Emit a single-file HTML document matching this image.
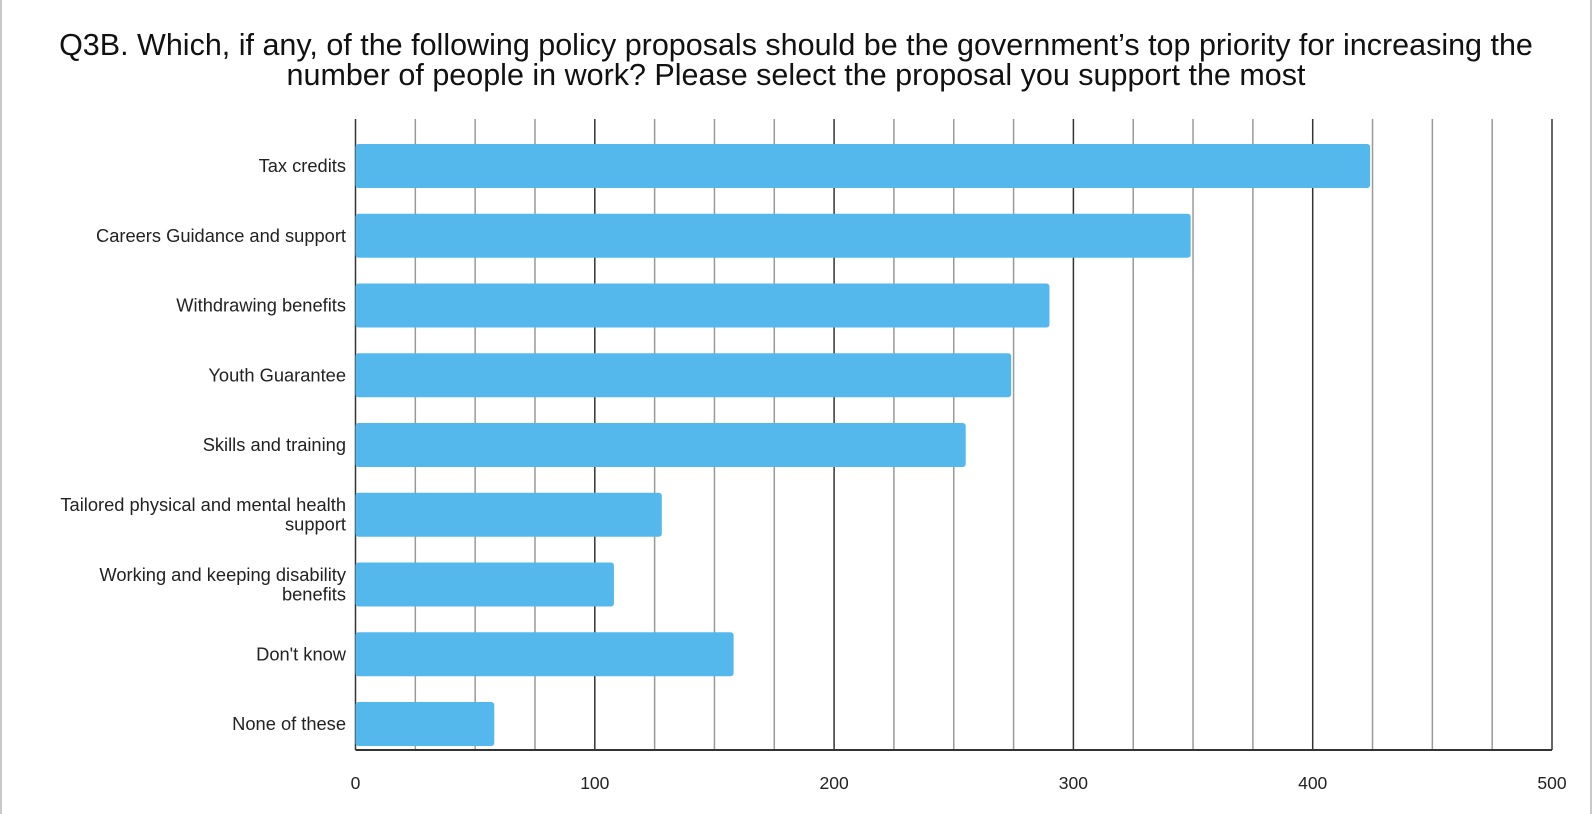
<!DOCTYPE html>
<html><head><meta charset="utf-8"><style>
body{margin:0;background:#fff;}
#wrap{position:relative;width:1592px;height:814px;overflow:hidden;background:#fff;font-family:"Liberation Sans",Arial,sans-serif;}
#bl{position:absolute;left:0;top:0;width:2px;height:814px;background:#c8c8c8;}
#br{position:absolute;right:0;top:0;width:2px;height:814px;background:#c8c8c8;}
#title{position:absolute;left:0;top:31px;width:1592px;text-align:center;font-size:30.5px;line-height:29.5px;color:#111;}
</style></head><body>
<div id="wrap">
<div id="bl"></div>
<div id="br"></div>
<div id="title">Q3B. Which, if any, of the following policy proposals should be the government’s top priority for increasing the<br>number of people in work? Please select the proposal you support the most</div>
<svg id="chart" width="1592" height="814" style="position:absolute;left:0;top:0"></svg>
</div>
<script>
const categories=[["Tax credits"],["Careers Guidance and support"],["Withdrawing benefits"],["Youth Guarantee"],["Skills and  training"],["Tailored physical and mental health","support"],["Working and keeping disability","benefits"],["Don't know"],["None of these"]];
const values=[424,349,290,274,255,128,108,158,58];
const tickValues=[0,100,200,300,400,500];
const xMax=500;
const NS="http://www.w3.org/2000/svg";
const svg=document.getElementById('chart');
const x0=355.5,x1=1552,yTop=119,yBot=750,firstC=166,step=69.75,barH=44;
const xs=v=>x0+(x1-x0)*v/xMax;
const yc=i=>firstC+i*step;
function mk(t,a){const e=document.createElementNS(NS,t);for(const k in a)e.setAttribute(k,a[k]);svg.appendChild(e);return e;}
for(let v=0;v<=xMax;v+=25){
  const major=v%100===0;
  const l=mk('line',{x1:xs(v),x2:xs(v),y1:yTop,y2:yBot,stroke:major?'#333':'#999','stroke-width':1.5});
  
  
}
const base=mk('line',{x1:x0,x2:x1,y1:yBot,y2:yBot,stroke:'#333','stroke-width':2});


tickValues.forEach(v=>{
  const t=mk('text',{x:xs(v),y:yBot+39,'text-anchor':'middle','font-size':17.5,fill:'#222'});
  t.textContent=v;
  
  
});
values.forEach((v,i)=>{
  const r=mk('rect',{x:x0,y:yc(i)-barH/2,width:xs(v)-x0,height:barH,rx:3,fill:'#55b8ec'});
  
  
  const lines=categories[i];
  const t=mk('text',{x:346,'text-anchor':'end','font-size':18.3,fill:'#222'});
  
  
  lines.forEach((s,j)=>{
    const ts=document.createElementNS(NS,'tspan');
    ts.setAttribute('x',346);
    ts.setAttribute('y',yc(i)+6+(j-(lines.length-1)/2)*19.5);
    ts.textContent=s;
    t.appendChild(ts);
  });
});
</script>
</body></html>
